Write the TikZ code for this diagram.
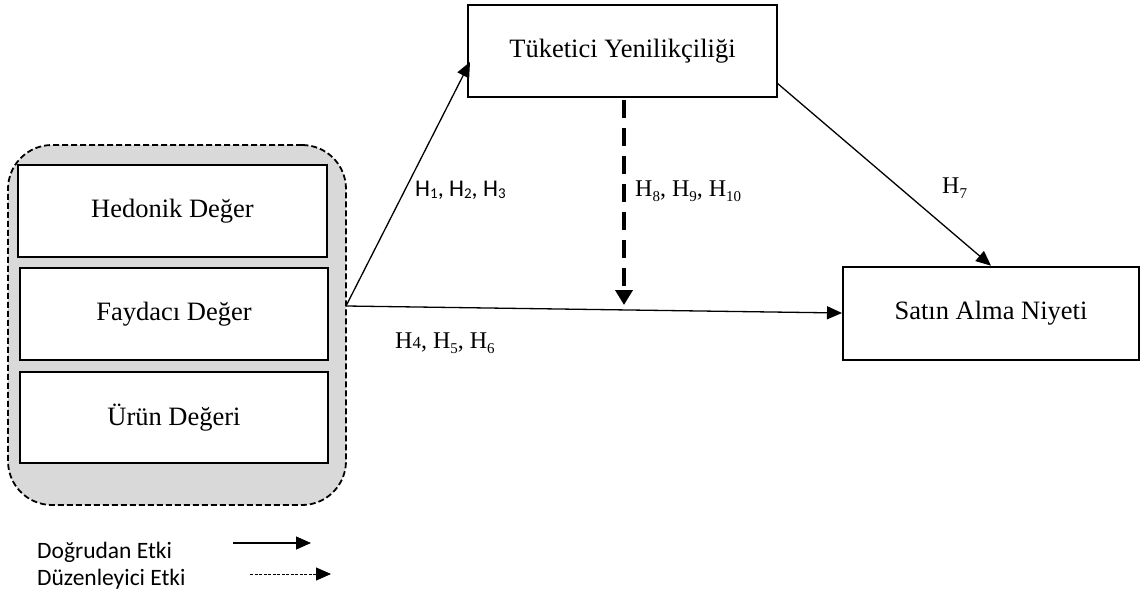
\documentclass[tikz,border=0pt]{standalone}
\usepackage{fontspec}
\setmainfont{Liberation Serif}
\newfontfamily\calfont{Carlito}
\usetikzlibrary{arrows.meta}
\newcommand\lowsub[1]{\raisebox{-2pt}{\fontsize{15}{17}\selectfont #1}}
\newcommand\tsub[1]{\raisebox{-5pt}{\fontsize{15}{17}\selectfont #1}}
\begin{document}
\begin{tikzpicture}[x=1pt,y=-1pt,
  box/.style={draw, line width=2.6pt, inner sep=0pt, font=\fontsize{26.5}{30}\selectfont},
  conn/.style={line width=1.3pt, -{Triangle[length=15pt,width=13pt]}},
  modarrow/.style={line width=4.8pt, dash pattern=on 18pt off 10pt, -{Triangle[length=15pt,width=17pt]}},
  legdash/.style={line width=1pt, dash pattern=on 3pt off 1.5pt, -{Triangle[length=15pt,width=13pt]}},
  hlab/.style={anchor=base west, inner sep=0pt, font=\fontsize{24}{28}\selectfont},
  clab/.style={anchor=base west, inner sep=0pt, font=\calfont\fontsize{23.5}{26}\selectfont}
]
\useasboundingbox (0,0) rectangle (1141,597);

% group
\node[draw, dashed, dash pattern=on 6pt off 3pt, line width=1.8pt, fill=black!15, rounded corners=44pt,
      minimum width=338pt, minimum height=360pt] (grp) at (177,325) {};
\node[box, fill=white, minimum width=309pt, minimum height=92pt] (hed) at (172.5,211) {Hedonik Değer};
\node[box, fill=white, minimum width=308pt, minimum height=92pt] (fay) at (174,314) {Faydacı Değer};
\node[box, fill=white, minimum width=308pt, minimum height=91pt] (urun) at (174,417.5) {Ürün Değeri};

% main boxes
\node[box, minimum width=309pt, minimum height=92pt] (tuk) at (622.5,51) {Tüketici Yenilikçiliği};
\node[box, minimum width=296pt, minimum height=93pt] (sat) at (991,313.5) {Satın Alma Niyeti};

% connectors
\coordinate (src) at (346,306);
\coordinate (tukin) at (470,62);
\coordinate (tukout) at (777,83);
\coordinate (satin) at (842,313);
\coordinate (modend) at (624,305);
\draw[conn] (src) -- (tukin);
\draw[conn] (src) -- (satin);
\draw[conn] (tukout) -- (sat.north);
\draw[modarrow] (624,100) -- (modend);

% labels
\node[clab, font=\calfont\fontsize{24}{28}\selectfont] (l1) at (415,196) {H\lowsub{1}, H\lowsub{2}, H\lowsub{3}};
\node[hlab] (l8) at (635,196) {H\tsub{8}, H\tsub{9}, H\tsub{10}};
\node[hlab] (l7) at (942,193) {H\tsub{7}};
\node[hlab] (l4) at (395,348) {H{\fontsize{17}{20}\selectfont 4}, H\tsub{5}, H\tsub{6}};

% legend
\node[clab] (leg1) at (37,558) {Doğrudan Etki};
\node[clab] (leg2) at (37,585) {Düzenleyici Etki};
\coordinate (la1) at (233,543);
\coordinate (lb1) at (311,543);
\coordinate (la2) at (250,574);
\coordinate (lb2) at (331,574);
\draw[conn] (la1) -- (lb1);
\draw[legdash] (la2) -- (lb2);
\end{tikzpicture}
\end{document}
